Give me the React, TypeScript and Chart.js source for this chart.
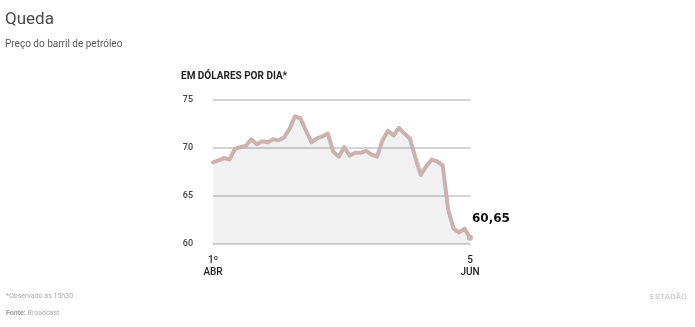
import React, { useEffect, useRef } from "react";
import { Chart, registerables } from "chart.js";

Chart.register(...registerables);

const labels: (string | string[])[] = [
  ["1º", "ABR"], "", "", "", "", "", "", "", "", "", "", "", "", "", "", "", "", "", "", "", "", "", "", "",
  "", "", "", "", "", "", "", "", "", "", "", "", "", "", "", "", "", "", "", "", "", "", "", ["5", "JUN"],
];

const prices: number[] = [
  68.5, 68.7, 68.95, 68.8, 69.9, 70.1, 70.2, 70.9, 70.4, 70.7, 70.6, 70.9,
  70.8, 71.1, 72.0, 73.3, 73.1, 71.8, 70.6, 71.0, 71.2, 71.5, 69.6, 69.1,
  70.1, 69.2, 69.5, 69.5, 69.7, 69.3, 69.1, 70.8, 71.8, 71.3, 72.1, 71.5,
  71.0, 69.0, 67.2, 68.1, 68.8, 68.6, 68.2, 63.6, 61.6, 61.2, 61.6, 60.65,
];

const yTicks: number[] = [60, 65, 70, 75];
const lastLabel = "60,65";

export default function App() {
  const ref = useRef<HTMLCanvasElement>(null);

  useEffect(() => {
    if (!ref.current) return;
    const lastLabelPlugin = {
      id: "lastLabel",
      afterDatasetsDraw(chart: any) {
        const meta = chart.getDatasetMeta(0);
        const pt = meta.data[meta.data.length - 1];
        if (!pt) return;
        const ctx = chart.ctx;
        ctx.save();
        ctx.font = "bold 12px 'DejaVu Sans'";
        ctx.fillStyle = "#111";
        ctx.textAlign = "left";
        ctx.textBaseline = "middle";
        ctx.fillText(lastLabel, pt.x + 2, pt.y - 19);
        ctx.restore();
      },
    };
    const chart = new Chart(ref.current, {
      type: "line",
      data: {
        labels,
        datasets: [
          {
            data: prices,
            borderColor: "#ccb1b1",
            borderWidth: 4,
            backgroundColor: "rgba(0,0,0,0.055)",
            fill: "start",
            tension: 0,
            pointRadius: prices.map((_, i) => (i === prices.length - 1 ? 3 : 0)),
            pointBackgroundColor: "#ccb1b1",
            pointBorderWidth: 0,
            borderJoinStyle: "round",
            borderCapStyle: "round",
          },
        ],
      },
      options: {
        animation: false,
        responsive: false,
        maintainAspectRatio: false,
        layout: { padding: { left: 170, top: 100, right: 225, bottom: 43 } },
        plugins: { legend: { display: false }, tooltip: { enabled: false } },
        scales: {
          x: {
            offset: false,
            grid: { display: false },
            border: { display: false },
            ticks: {
              autoSkip: false,
              maxRotation: 0,
              minRotation: 0,
              padding: 2,
              color: "#222",
              font: { family: "Roboto", size: 10, weight: "500" },
            },
            afterFit: (s: any) => {
              s.height = 40;
            },
          },
          y: {
            min: 60,
            max: 75,
            afterBuildTicks: (s: any) => {
              s.ticks = yTicks.map((v) => ({ value: v }));
            },
            grid: { color: "#d4d4d4", lineWidth: 2, drawTicks: false },
            border: { display: false },
            ticks: {
              padding: 20,
              color: "#444",
              font: { family: "Roboto", size: 9, weight: "500" },
            },
            afterFit: (s: any) => {
              s.width = 43;
            },
          },
        },
      },
      plugins: [lastLabelPlugin],
    });
    return () => chart.destroy();
  }, []);

  const font = "Roboto, 'Noto Sans', sans-serif";
  return (
    <div
      style={{
        position: "fixed",
        left: 0,
        top: 0,
        width: 695,
        height: 327,
        background: "#fff",
        fontFamily: font,
        overflow: "hidden",
      }}
    >
      <canvas ref={ref} width={695} height={327} style={{ position: "absolute", left: 0, top: 0 }} />
      <div style={{ position: "absolute", left: 5, top: 8, fontSize: 17, color: "#4a4a4a", lineHeight: "20px" }}>Queda</div>
      <div style={{ position: "absolute", left: 5, top: 38, fontSize: 10, color: "#555", lineHeight: "12px" }}>
        Preço do barril de petróleo
      </div>
      <div style={{ position: "absolute", left: 181, top: 70, fontSize: 10, fontWeight: 700, color: "#222", lineHeight: "12px" }}>
        EM DÓLARES POR DIA*
      </div>
      <div style={{ position: "absolute", left: 6, top: 292, fontSize: 7, color: "#aaa", lineHeight: "9px" }}>
        *Observado às 15h30
      </div>
      <div style={{ position: "absolute", left: 6, top: 309, fontSize: 7, color: "#aaa", lineHeight: "9px" }}>
        <b style={{ color: "#999" }}>Fonte:</b> Broadcast
      </div>
      <div style={{ position: "absolute", right: 8, top: 292, fontSize: 8, color: "#bbb", lineHeight: "9px", letterSpacing: 0.3 }}>
        ESTADÃO
      </div>
    </div>
  );
}
